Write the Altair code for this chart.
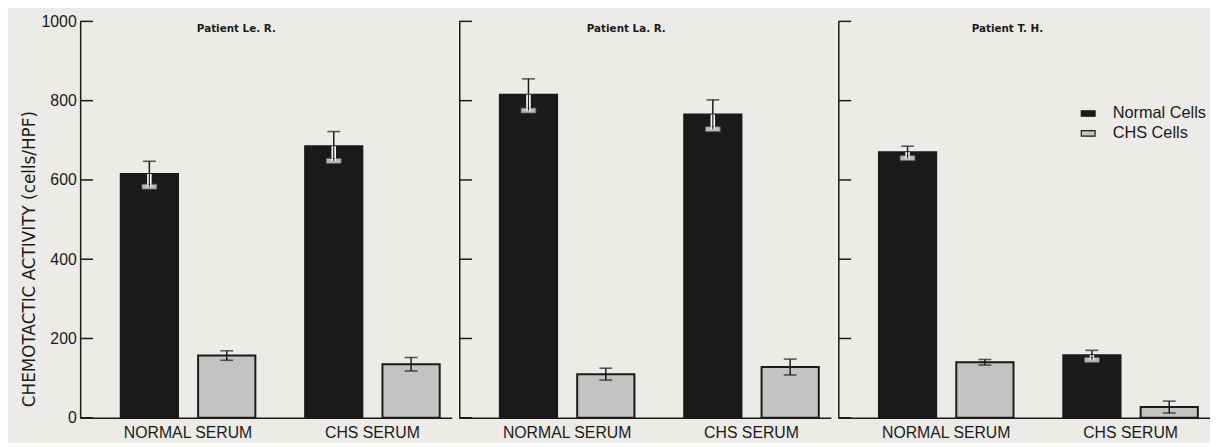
import altair as alt
import pandas as pd

patients = ["Patient Le. R.", "Patient La. R.", "Patient T. H."]
sera = ["NORMAL SERUM", "CHS SERUM"]
cell_types = ["Normal Cells", "CHS Cells"]
normal_cells_mean = [[615, 685], [815, 765], [670, 158]]
normal_cells_err = [[32, 37], [40, 37], [15, 12]]
chs_cells_mean = [[157, 135], [110, 128], [140, 27]]
chs_cells_err = [[12, 17], [15, 20], [7, 15]]
y_ticks = [0, 200, 400, 600, 800, 1000]

# layout constants
W, H = 376, 401
title_x = [158, 169, 171]
FONT = "Liberation Sans"
INK = "#1a1a1a"


def panel_df(i):
    rows = []
    for j, s in enumerate(sera):
        for c, m, e in (("Normal Cells", normal_cells_mean[i][j], normal_cells_err[i][j]),
                        ("CHS Cells", chs_cells_mean[i][j], chs_cells_err[i][j])):
            rows.append({"serum": s, "cells": c, "mean": m, "err": e,
                         "lo": m - e, "hi": m + e})
    return pd.DataFrame(rows)


yscale = alt.Scale(domain=[0, 1000], nice=False, zero=True)
xscale = alt.Scale(paddingInner=0.27, paddingOuter=0.143, align=0.77)
offscale = alt.Scale(paddingInner=0.26, paddingOuter=0)


def make_panel(i):
    df = panel_df(i)
    if i == 0:
        yaxis = alt.Axis(title="CHEMOTACTIC ACTIVITY (cells/HPF)", values=y_ticks, ticks=False,
                         format="d", grid=False, labelFontSize=16, labelPadding=4,
                         titleFontSize=17, titleFontWeight="normal", titlePadding=3,
                         titleY=240, domainColor=INK, domainWidth=1.5, labelColor=INK,
                         titleColor=INK, labelFont=FONT, titleFont="DejaVu Sans")
    else:
        yaxis = alt.Axis(title=None, labels=False, ticks=False, grid=False,
                         domainColor=INK, domainWidth=1.5)

    def Y(field):
        return alt.Y(field, scale=yscale, axis=yaxis)

    xaxis = alt.Axis(title=None, labelAngle=0, ticks=False, domainColor=INK, domainWidth=1.5,
                     labelFontSize=16, labelPadding=7, labelColor=INK, labelFont=FONT)
    base = alt.Chart(df).encode(
        x=alt.X("serum:N", sort=sera, scale=xscale, axis=xaxis),
        xOffset=alt.XOffset("cells:N", sort=cell_types, scale=offscale),
    )
    if i == 2:
        legend = alt.Legend(title=None, orient="none", legendX=244.5, legendY=85, padding=0,
                            symbolType="M-1.27,-0.5H1.27V0.5H-1.27Z", symbolSize=121,
                            symbolStrokeColor=INK, symbolStrokeWidth=1.2,
                            labelFontSize=16.5, labelOffset=16.5, labelColor=INK, labelFont=FONT,
                            rowPadding=3)
    else:
        legend = None
    color = alt.Color("cells:N", scale=alt.Scale(domain=cell_types, range=[INK, "#c3c3c1"]),
                      legend=legend)

    bars = base.mark_bar(stroke=INK, strokeWidth=2).encode(y=Y("mean:Q"), color=color)
    up_rule = base.mark_rule(color=INK, strokeWidth=1.5).encode(y=Y("mean:Q"), y2="hi:Q")
    up_cap = base.mark_tick(color=INK, size=13, thickness=1.6).encode(y=Y("hi:Q"))

    normal = base.transform_filter(alt.datum.cells == "Normal Cells")
    chs = base.transform_filter(alt.datum.cells == "CHS Cells")
    lo_halo = normal.mark_rule(color="white", strokeWidth=4.5).encode(y=Y("lo:Q"), y2="mean:Q")
    lo_cap_w = normal.mark_tick(color="white", size=15, thickness=5, stroke="#777",
                                strokeWidth=0.8).encode(y=Y("lo:Q"))
    lo_line = normal.mark_rule(color=INK, strokeWidth=1.2).encode(y=Y("lo:Q"), y2="mean:Q")
    lo_rule_c = chs.mark_rule(color=INK, strokeWidth=1.5).encode(y=Y("lo:Q"), y2="mean:Q")
    lo_cap_c = chs.mark_tick(color=INK, size=13, thickness=1.6).encode(y=Y("lo:Q"))

    ticks = alt.Chart(pd.DataFrame({"v": y_ticks})).mark_rule(color=INK, strokeWidth=1.5).encode(
        y=Y("v:Q"), x=alt.value(0), x2=alt.value(13))
    title = alt.Chart(pd.DataFrame({"t": [patients[i]]})).mark_text(
        fontSize=10.5, fontWeight="bold", font="DejaVu Sans", color=INK, align="center",
        baseline="middle"
    ).encode(text="t:N", x=alt.value(title_x[i]), y=alt.value(8))

    return alt.layer(bars, up_rule, up_cap, lo_halo, lo_cap_w, lo_line, lo_rule_c, lo_cap_c,
                     ticks, title).properties(width=W, height=H)


chart = alt.hconcat(*[make_panel(i) for i in range(3)], spacing=6.5).resolve_scale(
    color="independent"
).properties(
    padding={"left": 12, "top": 3, "right": 0, "bottom": 0},
    background="#ecebe8",
).configure_view(stroke=None)

chart.save("out.html", embed_options={"renderer": "svg", "actions": False})
